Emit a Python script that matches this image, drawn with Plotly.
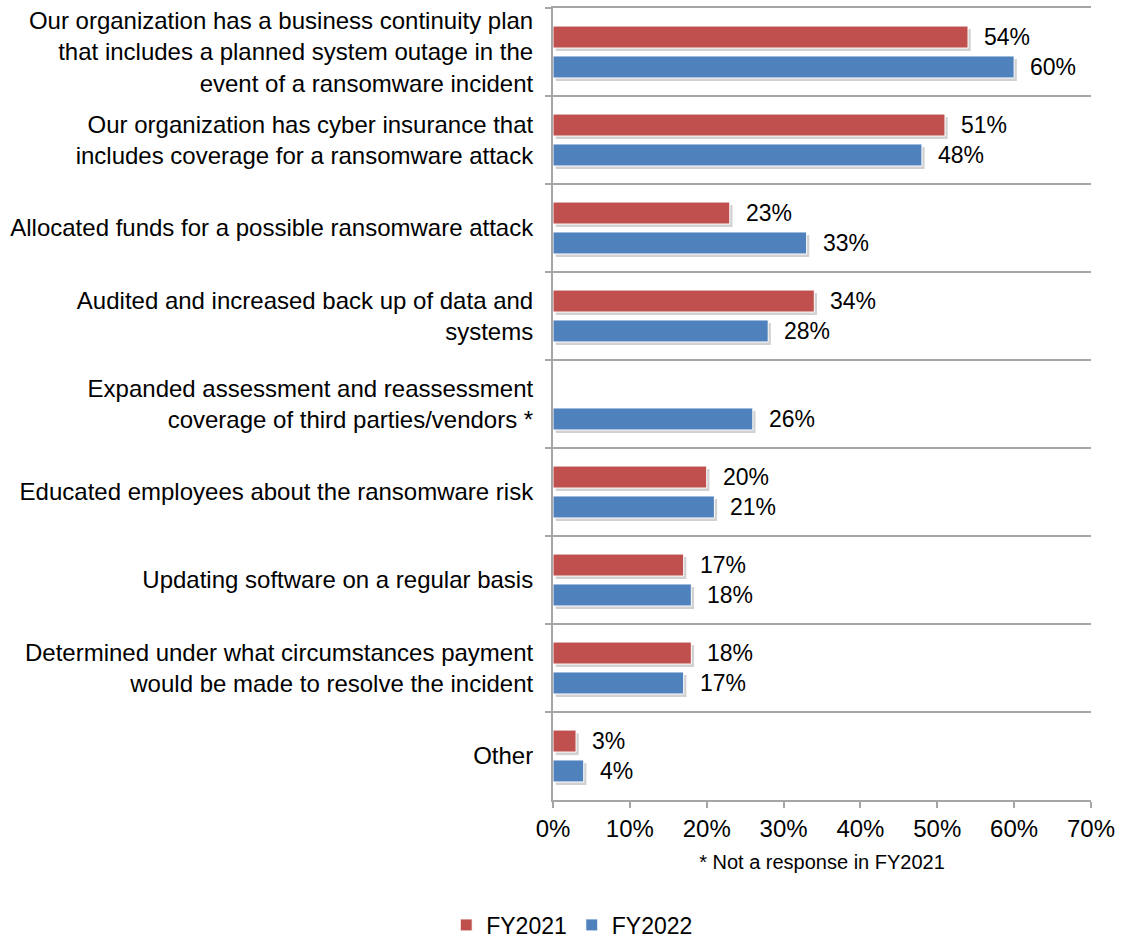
import plotly.graph_objects as go

# Survey responses: ransomware preparedness measures
categories = [
    "Our organization has a business continuity plan<br>that includes a planned system outage in the<br>event of a ransomware incident",
    "Our organization has cyber insurance that<br>includes coverage for a ransomware attack",
    "Allocated funds for a possible ransomware attack",
    "Audited and increased back up of data and<br>systems",
    "Expanded assessment and reassessment<br>coverage of third parties/vendors *",
    "Educated employees about the ransomware risk",
    "Updating software on a regular basis",
    "Determined under what circumstances payment<br>would be made to resolve the incident",
    "Other",
]
fy2021 = [54, 51, 23, 34, None, 20, 17, 18, 3]
fy2022 = [60, 48, 33, 28, 26, 21, 18, 17, 4]
x_ticks = [0, 10, 20, 30, 40, 50, 60, 70]
x_tick_text = [f"{v}%" for v in x_ticks]

RED = "#C0504D"
BLUE = "#4F81BD"
GRID = "#A6A6A6"
FONT = "Liberation Sans, Arial, sans-serif"

BAR_W = 0.25
series = [
    ("FY2021", fy2021, RED, -0.17 - BAR_W / 2, 15),
    ("FY2022", fy2022, BLUE, 0.17 - BAR_W / 2, -15),
]

fig = go.Figure()

# soft drop shadows under each bar
for name, vals, color, off, _ in series:
    fig.add_trace(go.Bar(
        y=categories, x=vals, orientation="h", base=0.35,
        offset=off + 0.035, width=BAR_W,
        marker=dict(color="rgba(0,0,0,0.18)", line=dict(width=0)),
        showlegend=False, hoverinfo="skip",
    ))

for name, vals, color, off, _ in series:
    fig.add_trace(go.Bar(
        y=categories, x=vals, orientation="h", name=name,
        offset=off, width=BAR_W,
        marker=dict(color=color, line=dict(color="white", width=1)),
    ))

# value labels to the right of each bar
for name, vals, color, off, yshift in series:
    for cat, v in zip(categories, vals):
        if v is None:
            continue
        fig.add_annotation(
            x=v, y=cat, text=f"{v}%", showarrow=False,
            xanchor="left", yanchor="middle", xshift=14, yshift=yshift,
            font=dict(size=23, color="black", family=FONT),
        )

fig.update_layout(
    width=1122, height=940,
    margin=dict(l=553, r=31, t=6, b=140),
    paper_bgcolor="white", plot_bgcolor="white",
    barmode="overlay",
    font=dict(family=FONT, size=24, color="black"),
    legend=dict(
        orientation="h", xref="container", yref="container",
        x=0.51, xanchor="center", y=0.016, yanchor="middle",
        font=dict(size=23), traceorder="normal", itemwidth=30,
    ),
    showlegend=True,
)

fig.update_yaxes(
    type="category", autorange="reversed", tickson="boundaries",
    showgrid=True, gridcolor=GRID, gridwidth=1.5,
    ticks="outside", ticklen=6, tickcolor=GRID, tickwidth=1.5,
    showline=True, linecolor=GRID, linewidth=2,
    ticklabelstandoff=13, tickfont=dict(size=24),
)

fig.update_xaxes(
    range=[0, 70], tickvals=x_ticks, ticktext=x_tick_text,
    ticks="outside", ticklen=6, tickcolor=GRID, tickwidth=1.5,
    showline=True, linecolor=GRID, linewidth=2, mirror=True,
    showgrid=False, zeroline=False, tickfont=dict(size=24),
    title=dict(text="* Not a response in FY2021", font=dict(size=20), standoff=14),
)

fig.write_html("out.html")
